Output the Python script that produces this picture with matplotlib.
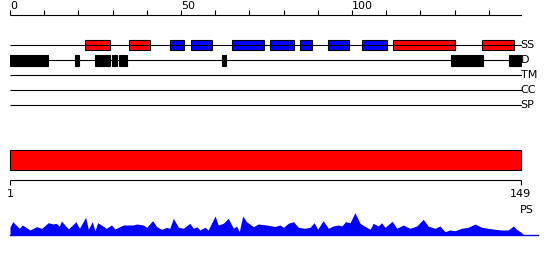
#!/usr/bin/env python3
"""Protein feature overview: secondary structure, disorder, TM/CC/SP tracks and a PS profile."""

import matplotlib

matplotlib.use("Agg")

import matplotlib.pyplot as plt
from matplotlib.patches import Rectangle


SEQ_LEN = 149
RULER_END = 149.6
RULER_TICKS = list(range(0, 150, 10))
RULER_LABELS = [0, 50, 100]

TRACKS = ["SS", "D", "TM", "CC", "SP"]
HELIX = [(22.0, 29.1), (34.9, 41.0), (112.1, 130.0), (138.1, 147.3)]
STRAND = [(46.9, 51.0), (53.0, 59.0), (65.0, 74.2), (76.0, 83.1),
          (84.9, 88.2), (93.1, 99.0), (103.0, 110.1)]
DISORDER = [(0.0, 11.0), (19.0, 20.2), (24.9, 29.1), (29.8, 31.2),
            (31.9, 34.1), (62.0, 63.2), (128.9, 138.3), (145.9, 149.3)]

PS_POS = [1.0, 1.8, 3.7, 4.6, 6.8, 8.7, 10.2, 12.1, 13.5, 14.3, 15.3, 15.9,
          17.9, 20.1, 21.1, 22.9, 23.7, 24.8, 25.6, 26.4, 28.9, 30.4, 31.4,
          33.8, 36.7, 37.7, 39.6, 40.6, 42.3, 43.5, 44.9, 46.4, 47.3, 48.3,
          49.8, 51.2, 53.1, 54.1, 55.1, 56.0, 57.5, 58.4, 60.4, 61.3, 62.8,
          64.2, 65.7, 66.6, 67.4, 68.4, 69.5, 71.5, 72.9, 75.3, 77.7, 79.2,
          80.2, 81.6, 83.1, 84.5, 86.4, 87.9, 89.1, 90.1, 91.7, 93.2, 94.6,
          96.1, 97.1, 98.2, 99.5, 100.9, 102.4, 103.6, 105.3, 106.2, 107.7,
          108.6, 109.6, 111.7, 113.0, 114.9, 116.8, 118.8, 120.7, 122.1,
          124.1, 125.5, 127.0, 128.4, 129.9, 131.8, 133.7, 135.7, 137.6,
          139.5, 141.5, 143.4, 145.3, 146.8, 147.7, 149.2, 149.7]
PS_VAL = [8.0, 13.3, 6.7, 10.0, 5.0, 8.3, 6.7, 12.3, 11.0, 11.7, 9.0, 14.0,
          6.0, 13.3, 6.7, 17.7, 5.7, 13.3, 4.3, 12.3, 6.7, 10.0, 6.0,
          10.0, 10.0, 11.0, 10.0, 7.7, 14.3, 8.3, 5.7, 7.7, 6.7, 16.7,
          7.7, 6.7, 11.7, 6.7, 8.3, 5.0, 7.7, 5.0, 19.0, 10.0, 11.7,
          16.7, 6.7, 9.0, 3.3, 19.0, 13.3, 8.3, 11.0, 10.0, 8.5, 10.0,
          7.7, 11.7, 13.3, 7.7, 6.7, 7.7, 12.3, 5.7, 14.3, 6.7, 9.0,
          10.0, 9.0, 13.3, 12.3, 22.3, 11.7, 9.0, 5.7, 11.7, 9.0,
          12.3, 7.7, 13.7, 6.7, 10.0, 6.7, 9.0, 15.7, 9.0,
          6.7, 9.0, 3.3, 5.0, 4.3, 6.7, 7.7, 11.0, 7.7,
          6.7, 5.7, 5.0, 5.0, 9.0, 5.7, 2.3, 0.0]
PS_TAIL_END = 153.9

W, H = 550, 260
LW = 0.8
FONT = 8


def px_axes(fig, x0, y0, x1, y1):
    # axes placed by pixel box (top-left origin)
    ax = fig.add_axes([x0 / W, 1 - y1 / H, (x1 - x0) / W, (y1 - y0) / H])
    ax.set_axis_off()
    return ax


def main():
    fig = plt.figure(figsize=(W / 100, H / 100), dpi=100)

    # feature tracks, y in pixels from the top
    ax = px_axes(fig, 10, 0, 521.7, 120)
    ax.set_xlim(0, RULER_END)
    ax.set_ylim(120, 0)

    ax.hlines(15, 0, RULER_END, color="black", lw=LW)
    ax.vlines(RULER_TICKS, 10, 15, color="black", lw=LW)
    for t in RULER_LABELS:
        ax.text(t, 11, str(t), ha="left", va="bottom", fontsize=FONT)

    row_y = {name: 45 + 15 * i for i, name in enumerate(TRACKS)}
    for name, y in row_y.items():
        ax.hlines(y, 0, RULER_END, color="black", lw=LW)
        ax.text(RULER_END - 0.3, y, name, ha="left", va="center", fontsize=FONT)

    for segs, color in ((HELIX, "#ff0000"), (STRAND, "#0000ff")):
        for s, e in segs:
            ax.add_patch(Rectangle((s, row_y["SS"] - 5), e - s, 10,
                                   facecolor=color, edgecolor="black", lw=LW))
    for s, e in DISORDER:
        ax.add_patch(Rectangle((s, row_y["D"] - 5), e - s, 10.5,
                               facecolor="black", edgecolor="black", lw=LW))

    # sequence bar and its axis
    ax_seq = px_axes(fig, 10, 140, 520.7, 220)
    ax_seq.set_xlim(1, SEQ_LEN)
    ax_seq.set_ylim(220, 140)
    ax_seq.add_patch(Rectangle((1, 150), SEQ_LEN - 1, 20.3,
                               facecolor="#ff0000", edgecolor="black", lw=LW,
                               clip_on=False))
    ax_seq.hlines(180.3, 1, SEQ_LEN, color="black", lw=LW, clip_on=False)
    ax_seq.vlines([1, SEQ_LEN], 180.3, 185, color="black", lw=LW, clip_on=False)
    for t in (1, SEQ_LEN):
        ax_seq.text(t, 189, str(t), ha="center", va="top", fontsize=FONT)
    ax_seq.text(SEQ_LEN + 1.8, 205, "PS", ha="center", va="top", fontsize=FONT)

    # PS profile
    ax_ps = px_axes(fig, 10, 205, 521, 235)
    ax_ps.set_xlim(1, SEQ_LEN)
    ax_ps.set_ylim(0, 30)
    ax_ps.fill_between(PS_POS, PS_VAL, 0, color="#0000ff", lw=0, clip_on=False)
    ax_ps.plot([PS_POS[0], PS_TAIL_END], [0, 0], color="#0000ff", lw=1.0,
               clip_on=False)

    fig.savefig("out.png", dpi=100)
    plt.close(fig)


if __name__ == "__main__":
    main()
